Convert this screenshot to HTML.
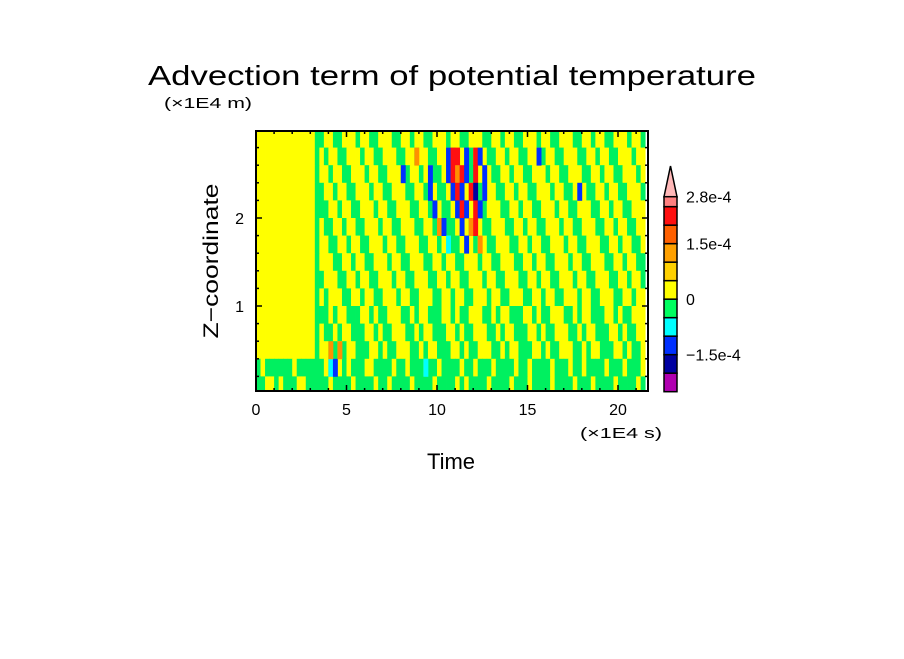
<!DOCTYPE html>
<html><head><meta charset="utf-8"><style>
body{margin:0;background:#fff;width:904px;height:654px;overflow:hidden}
text{font-family:"Liberation Sans",sans-serif;fill:#000}
</style></head><body>
<svg id="chart" width="904" height="654" xmlns="http://www.w3.org/2000/svg">
<defs><clipPath id="clip"><rect x="256" y="131" width="392" height="260"/></clipPath></defs>
<text x="148" y="85" font-size="28" textLength="608" lengthAdjust="spacingAndGlyphs">Advection term of potential temperature</text>
<text x="164" y="108" font-size="15" textLength="88" lengthAdjust="spacingAndGlyphs">(×1E4 m)</text>
<g id="cells" clip-path="url(#clip)"></g>
<rect x="256" y="131" width="392" height="260" fill="none" stroke="#000" stroke-width="2"/>
<g id="axes"></g>
<text transform="translate(218,261) rotate(-90)" font-size="21" text-anchor="middle" textLength="155" lengthAdjust="spacingAndGlyphs">Z−coordinate</text>
<text x="580" y="438" font-size="15" textLength="82" lengthAdjust="spacingAndGlyphs">(×1E4 s)</text>
<text x="451" y="469" font-size="22" text-anchor="middle">Time</text>
<g id="cbar"></g>
</svg>
<script>
const ns="http://www.w3.org/2000/svg";
const xTicks=[0,5,10,15,20];
const yTicks=[1,2];
const cbColors=["#ff8080","#ff1010","#ff6000","#ffa000","#ffd000","#ffff00","#00ff60","#00ffff","#0030ff","#0000a0","#b000b0"];
const cbLabels=["2.8e-4","1.5e-4","0","−1.5e-4"];
const cbLabelIdx=[0,3,6,9];
const xStep=0.25, yStep=0.2, nCols=86;
const gridRows=[
"YYYYYYYYYYYYYGGYYGGYYYGYYGGYYYGGYYGYYGGYYYGYYGGYYYGGYYGYYGGYYYGYYGGYYYGGYYGYYGGYYYGYYGGYYYGGYY",
"YYYYYYYYYYYYYGYGYYGGYYYGYYGGYYYGGYYGYYGGYYYGYYGGYYYGGYYGYYGGYYYGYYGGYYYGGYYGYYGGYYYGYYGGYYYGGYY",
"YYYYYYYYYYYYYGYYGYYGGYYYGYYGGYYYGGYYGYYGGYYYGYYGGYYYGGYYGYYGGYYYGYYGGYYYGGYYGYYGGYYYGYYGGYYYGGYY",
"YYYYYYYYYYYYYGGYYGYYGGYYYGYYGGYYYGGYYGYYGGYYYGYYGGYYYGGYYGYYGGYYYGYYGGYYYGGYYGYYGGYYYGYYGGYYYGG",
"YYYYYYYYYYYYYGGGYYGYYGGYYYGYYGGYYYGGYYGYYGGYYYGYYGGYYYGGYYGYYGGYYYGYYGGYYYGGYYGYYGGYYYGYYGGYYYG",
"YYYYYYYYYYYYYGYGGYYGYYGGYYYGYYGGYYYGGYYGYYGGYYYGYYGGYYYGGYYGYYGGYYYGYYGGYYYGGYYGYYGGYYYGYYGGYYY",
"YYYYYYYYYYYYYGYYGGYYGYYGGYYYGYYGGYYYGGYYGYYGGYYYGYYGGYYYGGYYGYYGGYYYGYYGGYYYGGYYGYYGGYYYGYYGGYY",
"YYYYYYYYYYYYYGYYYGGYYGYYGGYYYGYYGGYYYGGYYGYYGGYYYGYYGGYYYGGYYGYYGGYYYGYYGGYYYGGYYGYYGGYYYGYYGGY",
"YYYYYYYYYYYYYGGYYYGGYYGYYGGYYYGYYGGYYYGGYYGYYGGYYYGYYGGYYYGGYYGYYGGYYYGYYGGYYYGGYYGYYGGYYYGYYGG",
"YYYYYYYYYYYYYGYGYYYGGYYGYYGGYYYGYYGGYYYGGYYGYYGGYYYGYYGGYYYGGYYGYYGGYYYGYYGGYYYGGYYGYYGGYYYGYYG",
"YYYYYYYYYYYYYGGGYGYYGGGYYGYGGYYYGGYGYYGGGYYGYGGYYYGGYGYYGGGYYGYGGYYYGGYGYYGGGYYGYGGYYYGGYGYYGG",
"YYYYYYYYYYYYYGYGGYGYYGGGYYGYGGYYYGGYGYYGGGYYGYGGYYYGGYGYYGGGYYGYGGYYYGGYGYYGGGYYGYGGYYYGGYGYYG",
"YYYYYYYYYYYYYGYYGGYGYYGGGYYGYGGYYYGGYGYYGGGYYGYGGYYYGGYGYYGGGYYGYGGYYYGGYGYYGGGYYGYGGYYYGGYGYY",
"GYGGGGGGYGGGGGGYGGYGYGGGYYGGGGYGGYGGGYGGYGGGGYGGYGGGYGGGGYGGYGGGGYGGGYGGYGGGGYGGGYGGGYGGGGYGGG",
"GGYYGYGGGYYGGGGGYGGGGYGGGGYGGYGGGGYGGGGYGGGGYGYGGGGYGGGGYGGGYGGGGYGGGGYGGGYGGGGYGGGGYGGGGYGGGG"];
const overlayX=[9.5,9.5,9.75,8.0,10.5,10.75,11.0,11.5,12.0,12.25,10.5,10.75,11.0,11.25,11.5,12.0,12.5,10.75,11.0,11.25,11.75,12.0,12.5,11.0,11.25,11.5,12.0,12.25,11.25,11.75,12.0,10.0,10.25,11.5,12.25,10.5,15.5,17.75,8.75,9.25,4.0,4.25,4.0,4.5];
const overlayZ=[2.4,2.2,2.0,2.4,2.6,2.6,2.6,2.6,2.6,2.6,2.4,2.4,2.4,2.4,2.4,2.4,2.4,2.2,2.2,2.2,2.2,2.2,2.2,2.0,2.0,2.0,2.0,2.0,1.8,1.8,1.8,1.8,1.8,1.6,1.6,1.6,2.6,2.2,2.6,0.2,0.2,0.2,0.4,0.4];
const overlayC="BBBBBRRBRBBRORBRBBRBRDBBRBRBBOROBBOCBBOCCBOO";
const pal={Y:"#ffff00",G:"#00f060",C:"#00ffff",B:"#0030ff",D:"#0000a0",R:"#ff1010",O:"#ff9000",P:"#ffd000"};
const X=v=>256+v*18.1, Y=v=>394-v*88;
const cells=document.getElementById('cells');
function cell(x0,z0,ch){
  const r=document.createElementNS(ns,'rect');
  
  
  r.setAttribute('x',X(x0));r.setAttribute('y',Y(z0+yStep));
  r.setAttribute('width',X(x0+xStep)-X(x0)+0.4);r.setAttribute('height',Y(z0)-Y(z0+yStep)+0.4);
  r.setAttribute('fill',pal[ch]||pal.Y);cells.appendChild(r);
}
gridRows.forEach((row,ri)=>{
  const z0=(gridRows.length-1-ri)*yStep;
  for(let ci=0;ci<nCols;ci++) cell(ci*xStep,z0,row[ci]||'Y');
});
overlayX.forEach((x,i)=>cell(x,overlayZ[i],overlayC[i]));
const ax=document.getElementById('axes');
function line(x1,y1,x2,y2,name){const l=document.createElementNS(ns,'line');


l.setAttribute('x1',x1);l.setAttribute('y1',y1);l.setAttribute('x2',x2);l.setAttribute('y2',y2);l.setAttribute('stroke','#000');l.setAttribute('stroke-width',1.5);ax.appendChild(l);}
function txt(x,y,s,anchor,size,name,parent){const t=document.createElementNS(ns,'text');


t.setAttribute('x',x);t.setAttribute('y',y);t.setAttribute('font-size',size);t.setAttribute('text-anchor',anchor);t.textContent=s;(parent||ax).appendChild(t);}
for(let v=1;v<=21;v++){const big=v%5===0;line(X(v),391,X(v),391-(big?6:3),'x-tick');line(X(v),131,X(v),131+(big?6:3),'x-tick');}
for(let v=0.2;v<2.99;v+=0.2){const big=Math.abs(v-Math.round(v))<0.01;line(256,Y(v),256+(big?6:3),Y(v),'y-tick');line(648,Y(v),648-(big?6:3),Y(v),'y-tick');}
xTicks.forEach(v=>txt(X(v),415,String(v),'middle',16,'x-tick-label'));
yTicks.forEach(v=>txt(244,Y(v)+6,String(v),'end',16,'y-tick-label'));
const cb=document.getElementById('cbar');
const cbTop=196.7,cbFirst=10,cbH=18.5;
const bnd=i=>i===0?cbTop:cbTop+cbFirst+(i-1)*cbH;
const tri=document.createElementNS(ns,'polygon');


tri.setAttribute('points',`664,${cbTop} 677,${cbTop} 670.5,166`);tri.setAttribute('fill','#ffb8b8');tri.setAttribute('stroke','#000');tri.setAttribute('stroke-width',1.5);cb.appendChild(tri);
cbColors.forEach((c,i)=>{const r=document.createElementNS(ns,'rect');


r.setAttribute('x',664);r.setAttribute('y',bnd(i));r.setAttribute('width',13);r.setAttribute('height',bnd(i+1)-bnd(i));r.setAttribute('fill',c);r.setAttribute('stroke','#000');r.setAttribute('stroke-width',1.5);cb.appendChild(r);});
cbLabels.forEach((s,i)=>txt(686,bnd(cbLabelIdx[i])+6,s,'start',16,'colorbar-label',cb));
</script>
</body></html>
